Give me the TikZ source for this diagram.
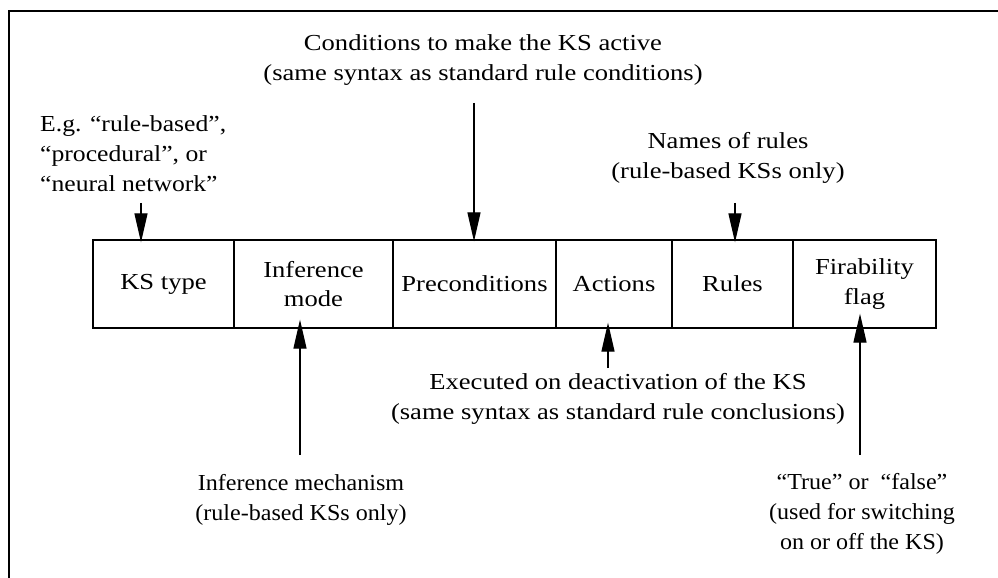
\documentclass[tikz,border=0pt]{standalone}
\usepackage{fontspec}
\setmainfont[FakeStretch=1.16]{Liberation Serif}
\newfontfamily\leftserif[FakeStretch=1.12]{Liberation Serif}
\newfontfamily\narrowserif[FakeStretch=1.05]{Liberation Serif}
\usetikzlibrary{arrows.meta}
\begin{document}
\begin{tikzpicture}[x=1bp,y=-1bp,
  txt/.style={inner sep=0pt, align=center, font=\fontsize{23}{30}\selectfont},
  cell/.style={draw, line width=1.3bp, minimum height=88bp, inner sep=0pt,
    align=center, font=\fontsize{23}{30}\selectfont},
  arr/.style={line width=1.3bp, -{Triangle[length=29bp,width=13bp]}},
  frame/.style={line width=1.5bp}]
\useasboundingbox (0,0) rectangle (998,578);

% open frame: top and left edges only
\draw[frame] (9,578) -- (9,11) -- (998,11);

% the KS record fields
\node[cell, minimum width=141bp] (kstype) at (163.5,284) {KS type};
\node[cell, minimum width=159bp] (infmode) at (313.5,284) {Inference\\mode};
\node[cell, minimum width=163bp] (precond) at (474.5,284) {Preconditions};
\node[cell, minimum width=116bp] (actions) at (614,284) {Actions};
\node[cell, minimum width=121bp] (rules) at (732.5,284) {Rules};
\node[cell, minimum width=143bp] (firab) at (864.5,284) {Firability\\flag};

% annotations above the record
\node[txt] (condtxt) at (483,60) {Conditions to make the KS active\\(same syntax as standard rule conditions)};
\node[txt, align=left, anchor=west, font=\fontsize{23}{30}\leftserif] (typetxt) at (40,154) {E.g. “rule-based”,\\“procedural”, or\\“neural network”};
\node[txt] (rulestxt) at (728,158) {Names of rules\\(rule-based KSs only)};

% annotations below the record
\node[txt] (acttxt) at (618,399) {Executed on deactivation of the KS\\(same syntax as standard rule conclusions)};
\node[txt, font=\fontsize{23}{30}\narrowserif] (inftxt) at (301,500) {Inference mechanism\\(rule-based KSs only)};
\node[txt, font=\fontsize{23}{30}\narrowserif] (firtxt) at (862,514) {“True” or~ “false”\\(used for switching\\on or off the KS)};

% arrow end points
\coordinate (a1) at (141,203);
\coordinate (a2) at (474,103);
\coordinate (a3) at (735,203);
\coordinate (b1) at (300,455);
\coordinate (b2) at (608,368);
\coordinate (b3) at (860,455);

\draw[arr] (a1) -- ([yshift=-3bp]kstype.north -| a1);
\draw[arr] (a2) -- ([yshift=-2bp]precond.north -| a2);
\draw[arr] (a3) -- ([yshift=-3bp]rules.north -| a3);
\draw[arr] (b1) -- ([yshift=9bp]infmode.south -| b1);
\draw[arr] (b2) -- ([yshift=6bp]actions.south -| b2);
\draw[arr] (b3) -- ([yshift=15bp]firab.south -| b3);
\end{tikzpicture}
\end{document}
